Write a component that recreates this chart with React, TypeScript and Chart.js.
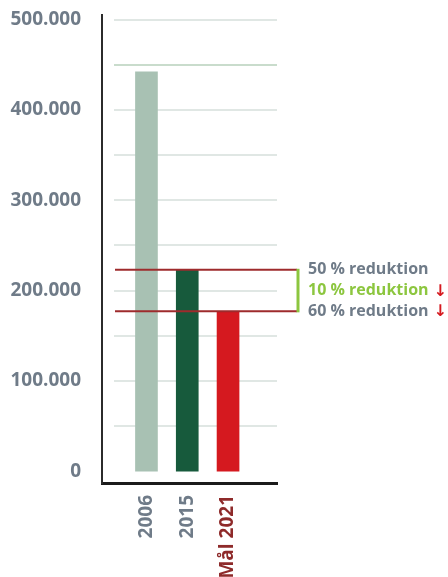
import { useEffect, useRef } from "react";
import { Chart, registerables } from "chart.js";

Chart.register(...registerables);

const categories = ["2006", "2015", "Mål 2021"];
const values = [442000, 223000, 177000];
const barColors = ["#a8c1b3", "#175a3c", "#d5191f"];
const yTickValues = [0, 50000, 100000, 150000, 200000, 250000, 300000, 350000, 400000, 450000, 500000];
const reductionLabels = ["50 % reduktion", "10 % reduktion", "60 % reduktion"];
const reductionArrows = [false, true, true];

const FONT = "'Open Sans', 'DejaVu Sans', sans-serif";
const GRAY = "#6f7b88";
const GREEN = "#8cc63f";
const DARKRED = "#9e2b2c";
const ARROWRED = "#d5191f";

function fmt(v: number): string {
  return String(v).replace(/\B(?=(\d{3})+(?!\d))/g, ".");
}

const gridPlugin = {
  id: "insetGrid",
  beforeDatasetsDraw(chart: any) {
    const { ctx, chartArea, scales } = chart;
    const y = scales.y;
    ctx.save();
    ctx.lineWidth = 2;
    for (const v of yTickValues) {
      if (v === 0) continue;
      const py = Math.round(y.getPixelForValue(v));
      ctx.strokeStyle = v === 450000 ? "#c9dccc" : "#e0e7e4";
      ctx.beginPath();
      ctx.moveTo(chartArea.left + 12, py);
      ctx.lineTo(chartArea.right, py);
      ctx.stroke();
    }
    ctx.restore();
  },
};

const reductionPlugin = {
  id: "reduction",
  afterDatasetsDraw(chart: any) {
    const { ctx, chartArea, scales } = chart;
    const y = scales.y;
    const yA = y.getPixelForValue(values[1]);
    const yB = y.getPixelForValue(values[2]);
    const x0 = chartArea.left + 13;
    const xBr = chartArea.right + 20;
    ctx.save();
    ctx.strokeStyle = DARKRED;
    ctx.lineWidth = 2;
    for (const py of [yA, yB]) {
      ctx.beginPath();
      ctx.moveTo(x0, py);
      ctx.lineTo(xBr, py);
      ctx.stroke();
    }
    ctx.strokeStyle = GREEN;
    ctx.lineWidth = 3;
    ctx.beginPath();
    ctx.moveTo(xBr + 1, yA - 1);
    ctx.lineTo(xBr + 1, yB + 1);
    ctx.stroke();

    const ys = [yA, (yA + yB) / 2, yB];
    const colors = [GRAY, GREEN, GRAY];
    ctx.font = `bold 16px ${FONT}`;
    ctx.textBaseline = "middle";
    ctx.textAlign = "left";
    const tx = xBr + 11;
    reductionLabels.forEach((t, i) => {
      ctx.fillStyle = colors[i];
      ctx.fillText(t, tx, ys[i]);
      if (reductionArrows[i]) {
        const w = ctx.measureText(t).width;
        ctx.fillStyle = ARROWRED;
        ctx.font = `bold 16px 'DejaVu Sans', sans-serif`;
        ctx.fillText("↓", tx + w + 5, ys[i] + 1);
        ctx.font = `bold 16px ${FONT}`;
      }
    });
    ctx.restore();
  },
};

export default function App() {
  const ref = useRef<HTMLCanvasElement | null>(null);

  useEffect(() => {
    if (!ref.current) return;
    const chart = new Chart(ref.current, {
      type: "bar",
      data: {
        datasets: [
          {
            data: values.map((v, i) => ({ x: i + 1, y: v })),
            backgroundColor: barColors,
            barThickness: 22,
            borderWidth: 0,
          },
        ],
      },
      options: {
        animation: false,
        responsive: true,
        maintainAspectRatio: false,
        layout: { padding: { left: 0, right: 171, top: 15, bottom: 0 } },
        plugins: { legend: { display: false }, tooltip: { enabled: false } },
        scales: {
          x: {
            type: "linear",
            min: -0.09,
            max: 4.2,
            offset: false,
            afterBuildTicks: (s: any) => {
              s.ticks = categories.map((_, i) => ({ value: i + 1 }));
            },
            afterFit: (s: any) => {
              s.height = 94;
              s.paddingLeft = 0;
              s.paddingRight = 0;
            },
            grid: { display: false, drawTicks: false },
            border: { display: true, color: "#1b1b1b", width: 3 },
            ticks: {
              autoSkip: false,
              minRotation: 90,
              maxRotation: 90,
              padding: 12,
              callback: (v: any) => categories[Math.round(Number(v)) - 1] ?? "",
              color: (c: any) => (c.index === 2 ? "#8e2a2a" : GRAY),
              font: { family: FONT, size: 19, weight: "bold" },
            },
          },
          y: {
            min: -13000,
            max: 505000,
            afterBuildTicks: (s: any) => {
              s.ticks = yTickValues.map((v) => ({ value: v }));
            },
            afterFit: (s: any) => {
              s.width = 102;
              s.paddingTop = 0;
              s.paddingBottom = 0;
            },
            grid: { display: false, drawTicks: false },
            border: { display: true, color: "#2b2b2b", width: 2 },
            ticks: {
              autoSkip: false,
              padding: 21,
              callback: (v: any) => (Number(v) % 100000 === 0 ? fmt(Number(v)) : ""),
              color: GRAY,
              font: { family: FONT, size: 19, weight: "bold" },
            },
          },
        },
      },
      plugins: [gridPlugin, reductionPlugin],
    });
    return () => chart.destroy();
  }, []);

  return (
    <div style={{ position: "absolute", left: 0, top: 0, width: 448, height: 577 }}>
      <canvas ref={ref} />
    </div>
  );
}
